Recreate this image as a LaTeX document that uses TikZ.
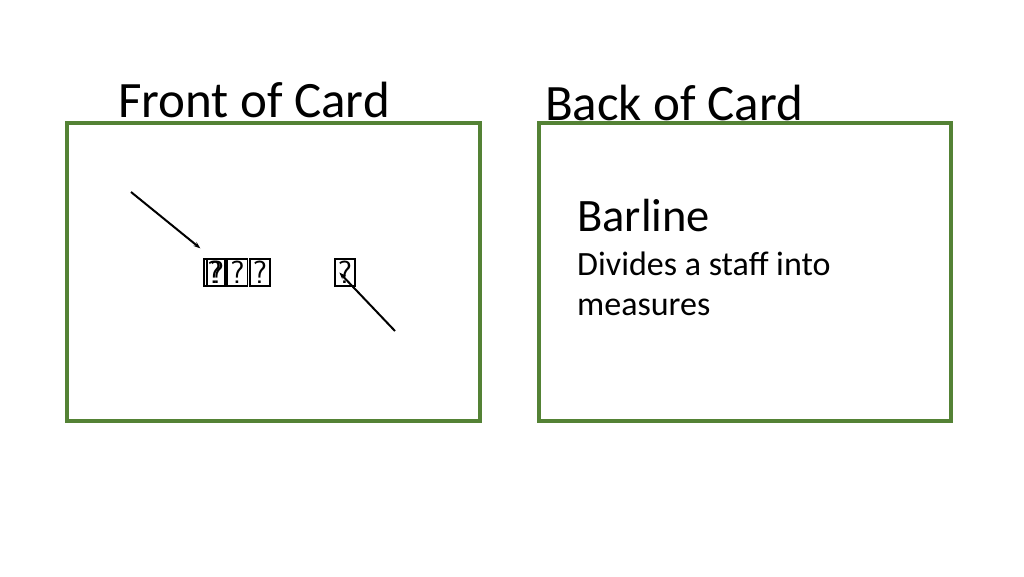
\documentclass[tikz,border=0pt]{standalone}
\usepackage{fontspec}
\setmainfont{Carlito}
\usetikzlibrary{arrows.meta}
\definecolor{cardcolor}{HTML}{548235}
\newcommand{\titlesize}{\fontsize{51}{60}\selectfont}
\newcommand{\termsize}{\fontsize{46.5}{54}\selectfont}
\newcommand{\defsize}{\fontsize{34}{40}\selectfont}

\begin{document}
\begin{tikzpicture}[x=1pt, y=-1pt,
        card/.style={draw=cardcolor, line width=4pt},
        label/.style={inner sep=0pt, anchor=base west},
        glyphbox/.style={draw, line width=1.3pt, inner sep=0pt, minimum width=20pt,
                minimum height=27pt, font=\sffamily\fontsize{32}{32}\selectfont},
        pointer/.style={line width=2pt, -{Stealth[length=7pt, width=5pt]}}]
        \useasboundingbox (0,0) rectangle (1024,576);

        \node (FT) [label] at (118,117) {\titlesize Front of Card};
        \node (BT) [label] at (545,120) {\titlesize Back of Card};

        \draw[card] (67,123) rectangle (480,421);
        \draw[card] (539,123) rectangle (951,421);

        \node (G1) [glyphbox, minimum width=21pt] at (214.5,272.5) {?};
        \node (G1b) [glyphbox, minimum width=20pt] at (217,272.5) {?};
        \node (G2) [glyphbox] at (237.5,272.5) {?};
        \node (G3) [glyphbox] at (260,272.5) {?};
        \node (G4) [glyphbox] at (345,272.5) {?};

        \coordinate (A1) at (131,192);
        \coordinate (A2) at (395,331);
        \draw[pointer] (A1) -- ([xshift=-3pt, yshift=10pt]G1.north west);
        \draw[pointer] (A2) -- ([xshift=5pt]G4.west);

        \node (TERM) [label] at (577,231) {\termsize Barline};
        \node (DEF1) [label] at (577,275) {\defsize Divides a staff into};
        \node (DEF2) [label] at (577,315) {\defsize measures};
    \end{tikzpicture}
\end{document}
